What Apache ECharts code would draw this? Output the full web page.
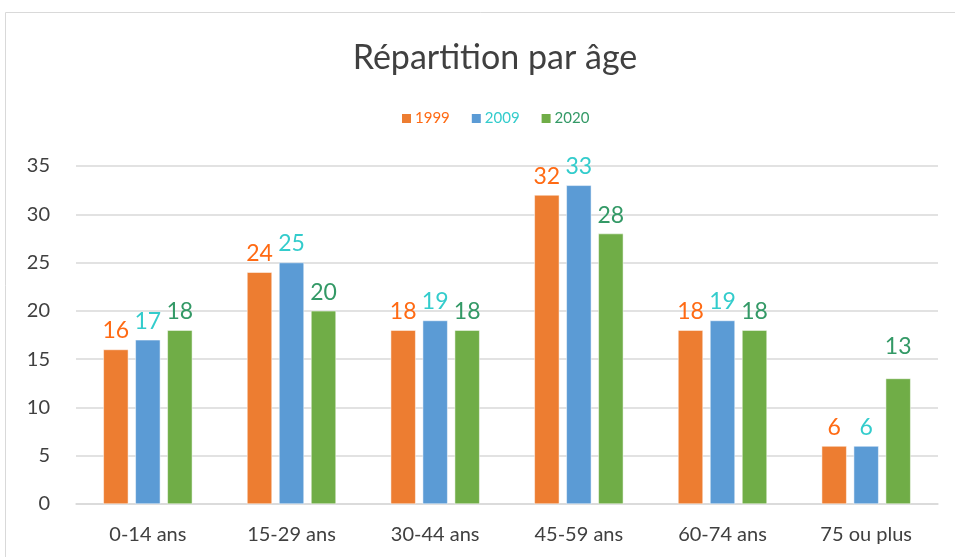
<!DOCTYPE html>
<html>
<head>
<meta charset="utf-8">
<script src="https://cdn.jsdelivr.net/npm/echarts@6/dist/echarts.min.js"></script>
<style>
  html, body { margin: 0; padding: 0; background: #fff; }
  #chart { width: 955px; height: 557px; }
</style>
</head>
<body>
<div id="chart"></div>
<script>
// données
const categories = ['0-14 ans', '15-29 ans', '30-44 ans', '45-59 ans', '60-74 ans', '75 ou plus']
const years = ['1999', '2009', '2020']
const data1999 = [16, 24, 18, 32, 18, 6]
const data2009 = [17, 25, 19, 33, 19, 6]
const data2020 = [18, 20, 18, 28, 18, 13]
const yTicks = [0, 5, 10, 15, 20, 25, 30, 35]

const barColors = ['#ED7D31', '#5B9BD5', '#70AD47']
const labelColors = ['#FF6A13', '#33CCCC', '#339966']
const font = 'Lato, "Open Sans", sans-serif'

const chart = echarts.init(document.getElementById('chart'))

const makeSeries = (name, values, i) => ({
  name: name,
  type: 'bar',
  data: values,
  barWidth: 25,
  barGap: '28%',
  itemStyle: { color: barColors[i], borderColor: '#fff', borderWidth: 0.5 },
  label: {
    show: true,
    position: 'top',
    distance: 7,
    color: labelColors[i],
    fontSize: 23,
    fontFamily: font
  }
})

const series = [data1999, data2009, data2020].map((d, i) => makeSeries(years[i], d, i))
// le label "13" est décalé plus haut dans l'original
series[2].data = data2020.map((v, k) => k === 5 ? { value: v, label: { distance: 20 } } : v)

const option = {
  animation: false,
  backgroundColor: '#fff',
  graphic: [{
    type: 'rect',
    shape: { x: 5.5, y: 12.5, width: 1000, height: 600 },
    style: { fill: 'none', stroke: '#D9D9D9', lineWidth: 1 },
    silent: true
  }],
  title: {
    text: 'Répartition par âge',
    left: 490,
    textAlign: 'center',
    top: 36,
    textStyle: { color: '#404040', fontSize: 34, fontWeight: 'normal', fontFamily: font }
  },
  legend: {
    data: years.map((y, i) => ({ name: y, textStyle: { color: labelColors[i] } })),
    left: 395,
    top: 106,
    itemWidth: 11,
    itemHeight: 11,
    itemGap: 20,
    icon: 'rect',
    textStyle: { fontSize: 15, fontFamily: font, padding: [0, 0, 0, -2] }
  },
  grid: { left: 76, right: 17, top: 166, bottom: 53 },
  xAxis: {
    type: 'category',
    data: categories,
    axisLine: { lineStyle: { color: '#D9D9D9', width: 1.5 } },
    axisTick: { show: false },
    axisLabel: { color: '#404040', fontSize: 20, fontFamily: font, margin: 21 }
  },
  yAxis: {
    type: 'value',
    min: yTicks[0],
    max: yTicks[yTicks.length - 1],
    interval: 5,
    axisLine: { show: false },
    axisTick: { show: false },
    splitLine: { lineStyle: { color: '#D9D9D9', width: 1.5 } },
    axisLabel: { color: '#404040', fontSize: 20, fontFamily: font, margin: 26 }
  },
  series: series
}

chart.setOption(option)
</script>
</body>
</html>
